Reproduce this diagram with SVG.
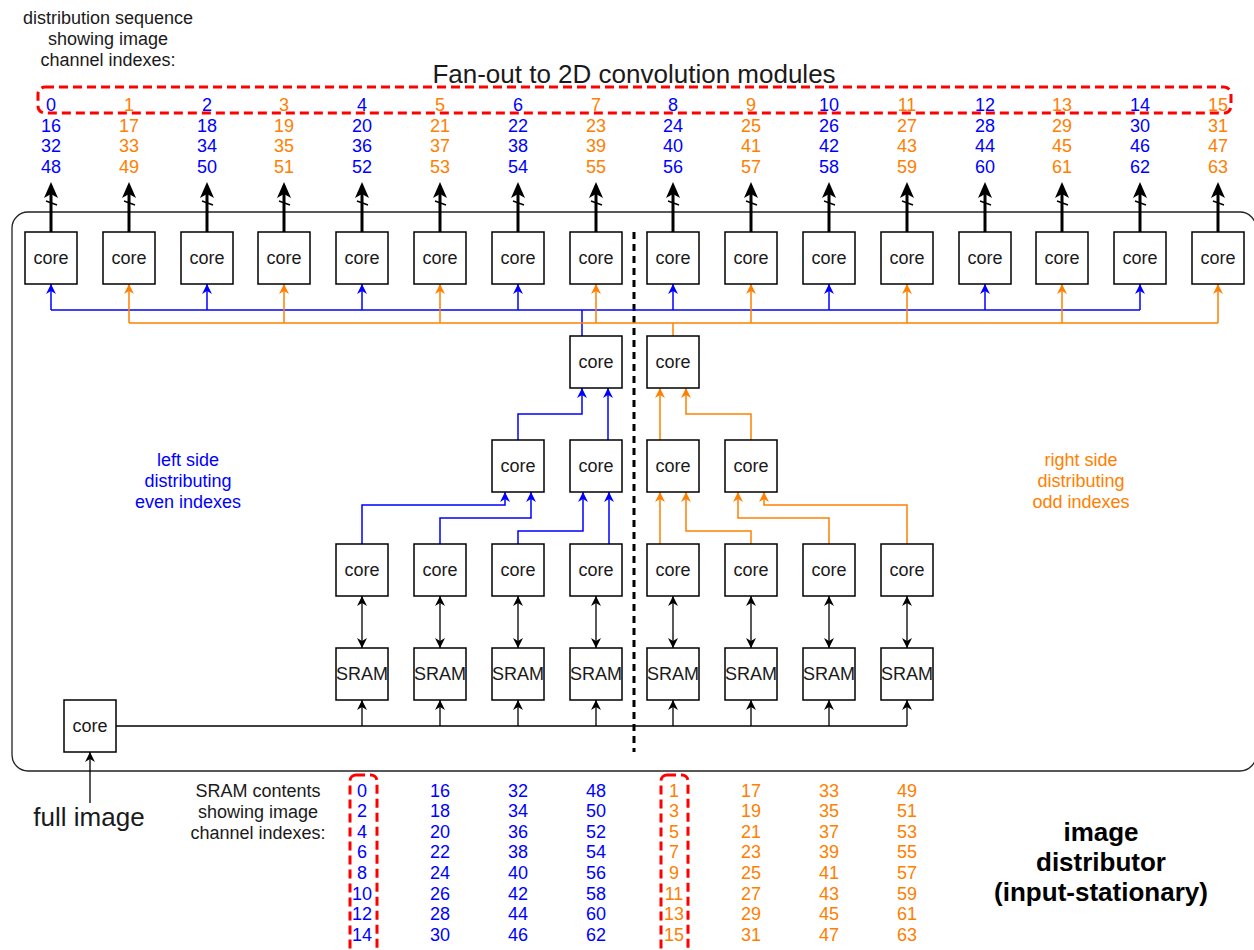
<svg xmlns="http://www.w3.org/2000/svg" width="1254" height="950" viewBox="0 0 1254 950">
  <style>
    text { font-family: "Liberation Sans", Arial, sans-serif; }
    .box { fill: #ffffff; stroke: #000000; stroke-width: 1.5; }
    .lbl { font-size: 18px; fill: #1a1a1a; text-anchor: middle; }
    .num { font-size: 18px; text-anchor: middle; }
    .b { fill: #0000ff; }
    .o { fill: #ff8000; }
    .note { font-size: 18px; fill: #1a1a1a; text-anchor: middle; }
    .big { font-size: 26px; fill: #1a1a1a; text-anchor: middle; }
    .bold { font-size: 26px; font-weight: bold; fill: #000000; text-anchor: middle; }
    .wb { fill: none; stroke: #0000ff; stroke-width: 1.5; }
    .wo { fill: none; stroke: #ff8000; stroke-width: 1.5; }
    .wk { fill: none; stroke: #000000; stroke-width: 1.3; }
    .out { fill: none; stroke: #000000; stroke-width: 3; }
    .red { fill: none; stroke: #ff0000; stroke-width: 3; stroke-dasharray: 9 5; }
  </style>
  <defs>
    <marker id="ab" viewBox="0 0 10 10" refX="10" refY="5" markerWidth="10" markerHeight="10" markerUnits="userSpaceOnUse" orient="auto">
      <path d="M0,0 L10,5 L0,10 L3,5 z" fill="#0000ff"/>
    </marker>
    <marker id="ao" viewBox="0 0 10 10" refX="10" refY="5" markerWidth="10" markerHeight="10" markerUnits="userSpaceOnUse" orient="auto">
      <path d="M0,0 L10,5 L0,10 L3,5 z" fill="#ff8000"/>
    </marker>
    <marker id="ak" viewBox="0 0 10 10" refX="10" refY="5" markerWidth="10" markerHeight="10" markerUnits="userSpaceOnUse" orient="auto-start-reverse">
      <path d="M0,0 L10,5 L0,10 L3,5 z" fill="#000000"/>
    </marker>
    <marker id="aout" viewBox="0 0 16 14" refX="12" refY="7" markerWidth="16" markerHeight="14" markerUnits="userSpaceOnUse" orient="auto">
      <path d="M0,0 L16,7 L0,14 L4,7 z" fill="#000000"/>
    </marker>
  </defs>

  <!-- headings -->
  <text class="note" x="108" y="24">distribution sequence</text>
  <text class="note" x="108" y="45">showing image</text>
  <text class="note" x="108" y="66">channel indexes:</text>
  <text class="big" x="634" y="83">Fan-out to 2D convolution modules</text>

  <!-- distributor enclosure -->
  <rect x="12" y="212" width="1244" height="559" rx="16" fill="none" stroke="#222222" stroke-width="1.3"/>

  <!-- distribution sequence numbers -->
  <g id="sequence">
    <rect class="red" x="38" y="87" width="1193" height="26" rx="7"/>
    <g class="num">
      <text class="b" x="51" y="111">0</text><text class="b" x="51" y="132">16</text><text class="b" x="51" y="152">32</text><text class="b" x="51" y="173">48</text>
      <text class="o" x="129" y="111">1</text><text class="o" x="129" y="132">17</text><text class="o" x="129" y="152">33</text><text class="o" x="129" y="173">49</text>
      <text class="b" x="207" y="111">2</text><text class="b" x="207" y="132">18</text><text class="b" x="207" y="152">34</text><text class="b" x="207" y="173">50</text>
      <text class="o" x="284" y="111">3</text><text class="o" x="284" y="132">19</text><text class="o" x="284" y="152">35</text><text class="o" x="284" y="173">51</text>
      <text class="b" x="362" y="111">4</text><text class="b" x="362" y="132">20</text><text class="b" x="362" y="152">36</text><text class="b" x="362" y="173">52</text>
      <text class="o" x="440" y="111">5</text><text class="o" x="440" y="132">21</text><text class="o" x="440" y="152">37</text><text class="o" x="440" y="173">53</text>
      <text class="b" x="518" y="111">6</text><text class="b" x="518" y="132">22</text><text class="b" x="518" y="152">38</text><text class="b" x="518" y="173">54</text>
      <text class="o" x="596" y="111">7</text><text class="o" x="596" y="132">23</text><text class="o" x="596" y="152">39</text><text class="o" x="596" y="173">55</text>
      <text class="b" x="673" y="111">8</text><text class="b" x="673" y="132">24</text><text class="b" x="673" y="152">40</text><text class="b" x="673" y="173">56</text>
      <text class="o" x="751" y="111">9</text><text class="o" x="751" y="132">25</text><text class="o" x="751" y="152">41</text><text class="o" x="751" y="173">57</text>
      <text class="b" x="829" y="111">10</text><text class="b" x="829" y="132">26</text><text class="b" x="829" y="152">42</text><text class="b" x="829" y="173">58</text>
      <text class="o" x="907" y="111">11</text><text class="o" x="907" y="132">27</text><text class="o" x="907" y="152">43</text><text class="o" x="907" y="173">59</text>
      <text class="b" x="985" y="111">12</text><text class="b" x="985" y="132">28</text><text class="b" x="985" y="152">44</text><text class="b" x="985" y="173">60</text>
      <text class="o" x="1062" y="111">13</text><text class="o" x="1062" y="132">29</text><text class="o" x="1062" y="152">45</text><text class="o" x="1062" y="173">61</text>
      <text class="b" x="1140" y="111">14</text><text class="b" x="1140" y="132">30</text><text class="b" x="1140" y="152">46</text><text class="b" x="1140" y="173">62</text>
      <text class="o" x="1218" y="111">15</text><text class="o" x="1218" y="132">31</text><text class="o" x="1218" y="152">47</text><text class="o" x="1218" y="173">63</text>
    </g>
  </g>

  <!-- side captions -->
  <text class="num b" x="188" y="466">left side</text>
  <text class="num b" x="188" y="487">distributing</text>
  <text class="num b" x="188" y="508">even indexes</text>
  <text class="num o" x="1081" y="466">right side</text>
  <text class="num o" x="1081" y="487">distributing</text>
  <text class="num o" x="1081" y="508">odd indexes</text>

  <!-- left/right divider -->
  <path d="M634,232 V752" fill="none" stroke="#000000" stroke-width="3" stroke-dasharray="7 5"/>

  <!-- connectors -->
  <g id="connectors">
    <!-- fan-out outputs with bus-width ticks -->
    <g class="out" marker-end="url(#aout)">
      <path d="M51,232 V186"/><path d="M129,232 V186"/><path d="M207,232 V186"/><path d="M284,232 V186"/>
      <path d="M362,232 V186"/><path d="M440,232 V186"/><path d="M518,232 V186"/><path d="M596,232 V186"/>
      <path d="M673,232 V186"/><path d="M751,232 V186"/><path d="M829,232 V186"/><path d="M907,232 V186"/>
      <path d="M985,232 V186"/><path d="M1062,232 V186"/><path d="M1140,232 V186"/><path d="M1218,232 V186"/>
    </g>
    <g fill="none" stroke="#000000" stroke-width="1.5">
      <path d="M46,201 L57,205"/><path d="M124,201 L135,205"/><path d="M202,201 L213,205"/><path d="M279,201 L290,205"/>
      <path d="M357,201 L368,205"/><path d="M435,201 L446,205"/><path d="M513,201 L524,205"/><path d="M591,201 L602,205"/>
      <path d="M668,201 L679,205"/><path d="M746,201 L757,205"/><path d="M824,201 L835,205"/><path d="M902,201 L913,205"/>
      <path d="M980,201 L991,205"/><path d="M1057,201 L1068,205"/><path d="M1135,201 L1146,205"/><path d="M1213,201 L1224,205"/>
    </g>

    <!-- even-index bus -->
    <path class="wb" d="M51,310 H1140"/>
    <path class="wb" d="M582,336 V310"/>
    <g class="wb" marker-end="url(#ab)">
      <path d="M51,310 V284"/><path d="M207,310 V284"/><path d="M362,310 V284"/><path d="M518,310 V284"/>
      <path d="M673,310 V284"/><path d="M829,310 V284"/><path d="M985,310 V284"/><path d="M1140,310 V284"/>
    </g>
    <!-- odd-index bus -->
    <path class="wo" d="M129,323 H1218"/>
    <path class="wo" d="M673,336 V323"/>
    <g class="wo" marker-end="url(#ao)">
      <path d="M129,323 V284"/><path d="M284,323 V284"/><path d="M440,323 V284"/><path d="M596,323 V284"/>
      <path d="M751,323 V284"/><path d="M907,323 V284"/><path d="M1062,323 V284"/><path d="M1218,323 V284"/>
    </g>

    <!-- tree, left half -->
    <g class="wb" marker-end="url(#ab)">
      <path d="M518,440 V414 H582 V388"/>
      <path d="M608,440 V388"/>
      <path d="M362,544 V505 H505 V492"/>
      <path d="M440,544 V518 H531 V492"/>
      <path d="M518,544 V531 H583 V492"/>
      <path d="M609,544 V492"/>
    </g>
    <!-- tree, right half -->
    <g class="wo" marker-end="url(#ao)">
      <path d="M660,440 V388"/>
      <path d="M751,440 V414 H686 V388"/>
      <path d="M660,544 V492"/>
      <path d="M751,544 V531 H686 V492"/>
      <path d="M829,544 V518 H738 V492"/>
      <path d="M907,544 V505 H764 V492"/>
    </g>

    <!-- core <-> SRAM links -->
    <g class="wk" marker-start="url(#ak)" marker-end="url(#ak)">
      <path d="M362,596 V648"/><path d="M440,596 V648"/><path d="M518,596 V648"/><path d="M596,596 V648"/>
      <path d="M673,596 V648"/><path d="M751,596 V648"/><path d="M829,596 V648"/><path d="M907,596 V648"/>
    </g>

    <!-- loader bus -->
    <path class="wk" d="M116,726 H907"/>
    <g class="wk" marker-end="url(#ak)">
      <path d="M362,726 V700"/><path d="M440,726 V700"/><path d="M518,726 V700"/><path d="M596,726 V700"/>
      <path d="M673,726 V700"/><path d="M751,726 V700"/><path d="M829,726 V700"/><path d="M907,726 V700"/>
      <path d="M90,803 V752"/>
    </g>
  </g>

  <!-- output cores -->
  <g id="out-cores">
    <g id="core-o0"><rect class="box" x="25" y="232" width="52" height="52"/><text class="lbl" x="51" y="264">core</text></g>
    <g id="core-o1"><rect class="box" x="103" y="232" width="52" height="52"/><text class="lbl" x="129" y="264">core</text></g>
    <g id="core-o2"><rect class="box" x="181" y="232" width="52" height="52"/><text class="lbl" x="207" y="264">core</text></g>
    <g id="core-o3"><rect class="box" x="258" y="232" width="52" height="52"/><text class="lbl" x="284" y="264">core</text></g>
    <g id="core-o4"><rect class="box" x="336" y="232" width="52" height="52"/><text class="lbl" x="362" y="264">core</text></g>
    <g id="core-o5"><rect class="box" x="414" y="232" width="52" height="52"/><text class="lbl" x="440" y="264">core</text></g>
    <g id="core-o6"><rect class="box" x="492" y="232" width="52" height="52"/><text class="lbl" x="518" y="264">core</text></g>
    <g id="core-o7"><rect class="box" x="570" y="232" width="52" height="52"/><text class="lbl" x="596" y="264">core</text></g>
    <g id="core-o8"><rect class="box" x="647" y="232" width="52" height="52"/><text class="lbl" x="673" y="264">core</text></g>
    <g id="core-o9"><rect class="box" x="725" y="232" width="52" height="52"/><text class="lbl" x="751" y="264">core</text></g>
    <g id="core-o10"><rect class="box" x="803" y="232" width="52" height="52"/><text class="lbl" x="829" y="264">core</text></g>
    <g id="core-o11"><rect class="box" x="881" y="232" width="52" height="52"/><text class="lbl" x="907" y="264">core</text></g>
    <g id="core-o12"><rect class="box" x="959" y="232" width="52" height="52"/><text class="lbl" x="985" y="264">core</text></g>
    <g id="core-o13"><rect class="box" x="1036" y="232" width="52" height="52"/><text class="lbl" x="1062" y="264">core</text></g>
    <g id="core-o14"><rect class="box" x="1114" y="232" width="52" height="52"/><text class="lbl" x="1140" y="264">core</text></g>
    <g id="core-o15"><rect class="box" x="1192" y="232" width="52" height="52"/><text class="lbl" x="1218" y="264">core</text></g>
  </g>

  <!-- tree cores -->
  <g id="tree-cores">
    <g id="core-r0"><rect class="box" x="570" y="336" width="52" height="52"/><text class="lbl" x="596" y="368">core</text></g>
    <g id="core-r1"><rect class="box" x="647" y="336" width="52" height="52"/><text class="lbl" x="673" y="368">core</text></g>
    <g id="core-m0"><rect class="box" x="492" y="440" width="52" height="52"/><text class="lbl" x="518" y="472">core</text></g>
    <g id="core-m1"><rect class="box" x="570" y="440" width="52" height="52"/><text class="lbl" x="596" y="472">core</text></g>
    <g id="core-m2"><rect class="box" x="647" y="440" width="52" height="52"/><text class="lbl" x="673" y="472">core</text></g>
    <g id="core-m3"><rect class="box" x="725" y="440" width="52" height="52"/><text class="lbl" x="751" y="472">core</text></g>
  </g>

  <!-- leaf cores -->
  <g id="leaf-cores">
    <g id="core-l0"><rect class="box" x="336" y="544" width="52" height="52"/><text class="lbl" x="362" y="576">core</text></g>
    <g id="core-l1"><rect class="box" x="414" y="544" width="52" height="52"/><text class="lbl" x="440" y="576">core</text></g>
    <g id="core-l2"><rect class="box" x="492" y="544" width="52" height="52"/><text class="lbl" x="518" y="576">core</text></g>
    <g id="core-l3"><rect class="box" x="570" y="544" width="52" height="52"/><text class="lbl" x="596" y="576">core</text></g>
    <g id="core-l4"><rect class="box" x="647" y="544" width="52" height="52"/><text class="lbl" x="673" y="576">core</text></g>
    <g id="core-l5"><rect class="box" x="725" y="544" width="52" height="52"/><text class="lbl" x="751" y="576">core</text></g>
    <g id="core-l6"><rect class="box" x="803" y="544" width="52" height="52"/><text class="lbl" x="829" y="576">core</text></g>
    <g id="core-l7"><rect class="box" x="881" y="544" width="52" height="52"/><text class="lbl" x="907" y="576">core</text></g>
  </g>

  <!-- SRAM banks -->
  <g id="srams">
    <g id="sram-0"><rect class="box" x="336" y="648" width="52" height="52"/><text class="lbl" x="362" y="680">SRAM</text></g>
    <g id="sram-1"><rect class="box" x="414" y="648" width="52" height="52"/><text class="lbl" x="440" y="680">SRAM</text></g>
    <g id="sram-2"><rect class="box" x="492" y="648" width="52" height="52"/><text class="lbl" x="518" y="680">SRAM</text></g>
    <g id="sram-3"><rect class="box" x="570" y="648" width="52" height="52"/><text class="lbl" x="596" y="680">SRAM</text></g>
    <g id="sram-4"><rect class="box" x="647" y="648" width="52" height="52"/><text class="lbl" x="673" y="680">SRAM</text></g>
    <g id="sram-5"><rect class="box" x="725" y="648" width="52" height="52"/><text class="lbl" x="751" y="680">SRAM</text></g>
    <g id="sram-6"><rect class="box" x="803" y="648" width="52" height="52"/><text class="lbl" x="829" y="680">SRAM</text></g>
    <g id="sram-7"><rect class="box" x="881" y="648" width="52" height="52"/><text class="lbl" x="907" y="680">SRAM</text></g>
  </g>

  <!-- input core -->
  <g id="core-in"><rect class="box" x="64" y="700" width="52" height="52"/><text class="lbl" x="90" y="732">core</text></g>
  <text class="big" x="89" y="826">full image</text>

  <!-- SRAM contents -->
  <g id="sram-contents">
    <text class="note" x="258" y="797">SRAM contents</text>
    <text class="note" x="258" y="818">showing image</text>
    <text class="note" x="258" y="839">channel indexes:</text>
    <rect class="red" x="350" y="775" width="27" height="200" rx="6"/>
    <rect class="red" x="661" y="775" width="27" height="200" rx="6"/>
    <g class="num b">
      <text x="362" y="797">0</text><text x="362" y="817">2</text><text x="362" y="838">4</text><text x="362" y="858">6</text>
      <text x="362" y="879">8</text><text x="362" y="900">10</text><text x="362" y="920">12</text><text x="362" y="941">14</text>
      <text x="440" y="797">16</text><text x="440" y="817">18</text><text x="440" y="838">20</text><text x="440" y="858">22</text>
      <text x="440" y="879">24</text><text x="440" y="900">26</text><text x="440" y="920">28</text><text x="440" y="941">30</text>
      <text x="518" y="797">32</text><text x="518" y="817">34</text><text x="518" y="838">36</text><text x="518" y="858">38</text>
      <text x="518" y="879">40</text><text x="518" y="900">42</text><text x="518" y="920">44</text><text x="518" y="941">46</text>
      <text x="596" y="797">48</text><text x="596" y="817">50</text><text x="596" y="838">52</text><text x="596" y="858">54</text>
      <text x="596" y="879">56</text><text x="596" y="900">58</text><text x="596" y="920">60</text><text x="596" y="941">62</text>
    </g>
    <g class="num o">
      <text x="674" y="797">1</text><text x="674" y="817">3</text><text x="674" y="838">5</text><text x="674" y="858">7</text>
      <text x="674" y="879">9</text><text x="674" y="900">11</text><text x="674" y="920">13</text><text x="674" y="941">15</text>
      <text x="751" y="797">17</text><text x="751" y="817">19</text><text x="751" y="838">21</text><text x="751" y="858">23</text>
      <text x="751" y="879">25</text><text x="751" y="900">27</text><text x="751" y="920">29</text><text x="751" y="941">31</text>
      <text x="829" y="797">33</text><text x="829" y="817">35</text><text x="829" y="838">37</text><text x="829" y="858">39</text>
      <text x="829" y="879">41</text><text x="829" y="900">43</text><text x="829" y="920">45</text><text x="829" y="941">47</text>
      <text x="907" y="797">49</text><text x="907" y="817">51</text><text x="907" y="838">53</text><text x="907" y="858">55</text>
      <text x="907" y="879">57</text><text x="907" y="900">59</text><text x="907" y="920">61</text><text x="907" y="941">63</text>
    </g>
  </g>

  <!-- caption -->
  <text class="bold" x="1101" y="841">image</text>
  <text class="bold" x="1101" y="871">distributor</text>
  <text class="bold" x="1101" y="901">(input-stationary)</text>
</svg>
